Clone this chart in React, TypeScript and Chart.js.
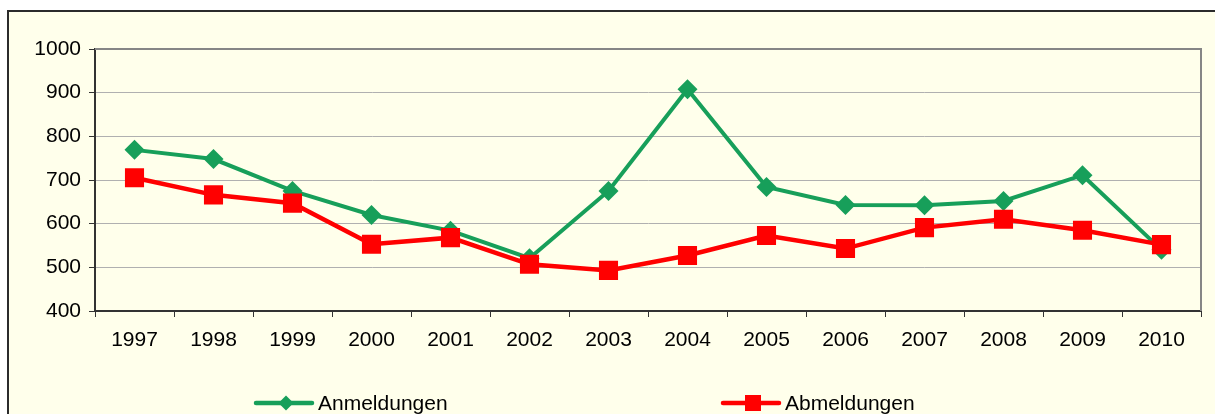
import React, { useEffect, useRef } from "react";
import { Chart, registerables } from "chart.js";
Chart.register(...registerables);

const years = ["1997", "1998", "1999", "2000", "2001", "2002", "2003", "2004", "2005", "2006", "2007", "2008", "2009", "2010"];
const anmeldungen = [769, 748, 675, 620, 584, 521, 675, 908, 684, 643, 642, 652, 711, 540];
const abmeldungen = [705, 666, 647, 553, 568, 507, 493, 527, 573, 543, 591, 610, 585, 552];
const yMin = 400;
const yMax = 1000;
const yStep = 100;

const GREEN = "#179F5A";
const RED = "#FF0000";
const BG = "#FFFFEB";
const FONT = "'Liberation Sans', Arial, sans-serif";

const framePlugin = {
  id: "frame",
  beforeDraw(chart: any) {
    const { ctx, width, height } = chart;
    ctx.save();
    ctx.fillStyle = "#FFFFFF";
    ctx.fillRect(0, 0, width, height);
    ctx.fillStyle = BG;
    ctx.fillRect(8, 11, width - 8, height - 11);
    ctx.fillStyle = "#2B2B2B";
    ctx.fillRect(7, 10, 2, height - 10);
    ctx.fillRect(7, 10, width - 7, 2);
    ctx.restore();
  },
  beforeDatasetsDraw(chart: any) {
    const { ctx, chartArea } = chart;
    ctx.save();
    ctx.fillStyle = "#868686";
    ctx.fillRect(chartArea.right - 1, chartArea.top - 1, 2, chartArea.bottom - chartArea.top + 1);
    ctx.fillRect(chartArea.left, chartArea.top - 1, chartArea.right - chartArea.left + 1, 2);
    ctx.restore();
  },
  afterDraw(chart: any) {
    const { ctx } = chart;
    const items = [
      { label: "Anmeldungen", color: GREEN, x0: 256, style: "diamond" },
      { label: "Abmeldungen", color: RED, x0: 723, style: "square" },
    ];
    const y = 403;
    ctx.save();
    for (const it of items) {
      ctx.strokeStyle = it.color;
      ctx.lineWidth = 4.5;
      ctx.lineCap = "round";
      ctx.beginPath();
      ctx.moveTo(it.x0, y);
      ctx.lineTo(it.x0 + 56, y);
      ctx.stroke();
      const cx = it.x0 + 30;
      ctx.fillStyle = it.color;
      ctx.beginPath();
      if (it.style === "diamond") {
        ctx.moveTo(cx - 7.5, y);
        ctx.lineTo(cx, y - 7.5);
        ctx.lineTo(cx + 7.5, y);
        ctx.lineTo(cx, y + 7.5);
        ctx.closePath();
      } else {
        ctx.rect(cx - 8, y - 8, 16, 16);
      }
      ctx.fill();
      ctx.fillStyle = "#000000";
      ctx.font = `21px ${FONT}`;
      ctx.textBaseline = "middle";
      ctx.textAlign = "left";
      ctx.fillText(it.label, it.x0 + 62, y + 1);
    }
    ctx.restore();
  },
};

export default function App() {
  const ref = useRef<HTMLCanvasElement>(null);
  useEffect(() => {
    if (!ref.current) return;
    const chart = new Chart(ref.current, {
      type: "line",
      data: {
        labels: years,
        datasets: [
          {
            label: "Abmeldungen",
            data: abmeldungen,
            borderColor: RED,
            backgroundColor: RED,
            borderWidth: 4.5,
            pointStyle: "rect",
            pointRadius: 13.5,
            pointBorderWidth: 0,
            pointBackgroundColor: RED,
            tension: 0,
            order: 0,
          },
          {
            label: "Anmeldungen",
            data: anmeldungen,
            borderColor: GREEN,
            backgroundColor: GREEN,
            borderWidth: 4,
            pointStyle: "rectRot",
            pointRadius: 10,
            pointBorderWidth: 0,
            pointBackgroundColor: GREEN,
            tension: 0,
            order: 1,
          },
        ],
      },
      options: {
        responsive: false,
        animation: false,
        layout: { padding: { top: 49, right: 14, left: 0, bottom: 0 } },
        plugins: {
          legend: { display: false },
          tooltip: { enabled: false },
        },
        scales: {
          x: {
            offset: true,
            afterFit: (s: any) => {
              s.height = 103;
            },
            border: { display: true, color: "#333333", width: 2 },
            grid: {
              offset: true,
              drawOnChartArea: false,
              drawTicks: true,
              tickLength: 6,
              color: "#333333",
              tickColor: "#333333",
            },
            ticks: {
              color: "#000000",
              font: { family: FONT, size: 21 },
              padding: 11,
              maxRotation: 0,
            },
          },
          y: {
            min: yMin,
            max: yMax,
            afterFit: (s: any) => {
              s.width = 95;
            },
            border: { display: true, color: "#333333", width: 2 },
            grid: {
              color: "#B0B0B0",
              lineWidth: 1,
              tickLength: 6,
              tickColor: "#333333",
              drawTicks: true,
            },
            ticks: {
              stepSize: yStep,
              color: "#000000",
              font: { family: FONT, size: 21 },
              padding: 8,
              callback: (v: any) => String(v),
            },
          },
        },
      },
      plugins: [framePlugin],
    });
    return () => chart.destroy();
  }, []);
  return (
    <div style={{ position: "absolute", left: 0, top: 0, width: 1215, height: 414 }}>
      <canvas ref={ref} width={1215} height={414} style={{ width: 1215, height: 414, display: "block" }} />
    </div>
  );
}
